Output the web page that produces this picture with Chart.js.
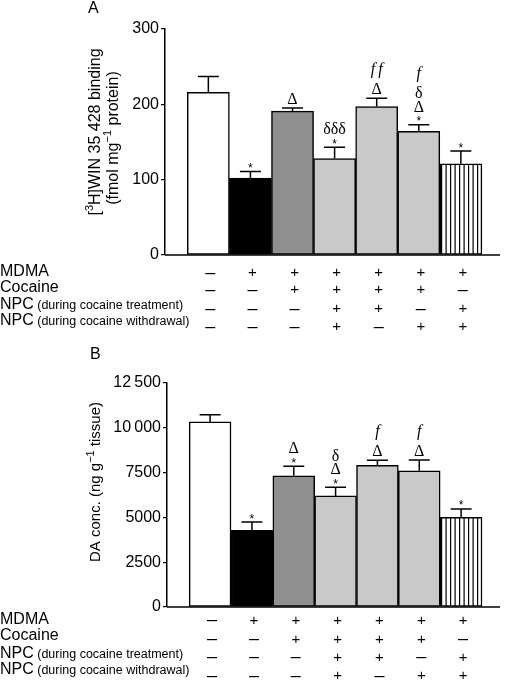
<!DOCTYPE html>
<html>
<head>
<meta charset="utf-8">
<script src="https://cdn.jsdelivr.net/npm/chart.js@4.4.1/dist/chart.umd.min.js"></script>
<style>
  body { margin: 0; background: #fff; }
  .panel { position: absolute; left: 0; width: 505px; }
</style>
</head>
<body>
<div class="panel" style="top:0;height:340px"><canvas id="chart-a"></canvas></div>
<div class="panel" style="top:340px;height:344px"><canvas id="chart-b"></canvas></div>
<script>
// groups (bars left to right)
const groups = ['Control', 'MDMA', 'MDMA+Cocaine', 'MDMA+Cocaine+NPC (both)',
                'MDMA+Cocaine+NPC (treatment)', 'MDMA+Cocaine+NPC (withdrawal)', 'MDMA+NPC (both)'];

// panel A: [3H]WIN 35 428 binding
const bindingMean = [216, 102, 191, 128, 197, 164, 121];
const bindingErr = [21, 9, 4, 15, 11, 9, 17];
const bindingTicks = [0, 100, 200, 300];
const bindingMarks = [[], ['*'], ['Δ'], ['*', 'δδδ'], ['Δ', 'f\u2009f'], ['*', 'Δ', 'δ', 'f'], ['*']];

// panel B: DA concentration
const daMean = [10330, 4280, 7320, 6200, 7900, 7600, 5000];
const daErr = [400, 460, 540, 480, 290, 600, 470];
const daTicks = [0, 2500, 5000, 7500, 10000, 12500];
const daTickLabels = ['0', '2500', '5000', '7500', '10\u2009000', '12\u2009500'];
const daMarks = [[], ['*'], ['*', 'Δ'], ['*', 'Δ', 'δ'], ['Δ', 'f'], ['Δ', 'f'], ['*']];

// treatment table under each panel
const rowLabels = [['MDMA', ''], ['Cocaine', ''], ['NPC', ' (during cocaine treatment)'], ['NPC', ' (during cocaine withdrawal)']];
const treatment = [
  ['–', '+', '+', '+', '+', '+', '+'],
  ['–', '–', '+', '+', '+', '+', '–'],
  ['–', '–', '–', '+', '+', '–', '+'],
  ['–', '–', '–', '+', '–', '+', '+']
];

const SANS = '"Liberation Sans", Arial, sans-serif';
const SERIF = '"Liberation Serif", "Times New Roman", serif';

function stripes() {
  const c = document.createElement('canvas');
  c.width = 9; c.height = 10;
  const g = c.getContext('2d');
  g.fillStyle = '#fff'; g.fillRect(0, 0, 9, 10);
  g.fillStyle = '#000'; g.fillRect(0, 0, 1.2, 10); g.fillRect(4.5, 0, 1.2, 10);
  return g.createPattern(c, 'repeat');
}

// draws text pieces, some of them as superscripts, centred on 0
function richText(ctx, parts, size) {
  const fonts = parts.map(p => (p.sup ? Math.round(size * 0.7) : size) + 'px ' + SANS);
  let total = 0;
  const widths = parts.map((p, i) => { ctx.font = fonts[i]; const w = ctx.measureText(p.t).width; total += w; return w; });
  let x = -total / 2;
  parts.forEach((p, i) => {
    ctx.font = fonts[i];
    ctx.fillText(p.t, x, p.sup ? -size * 0.35 : 0);
    x += widths[i];
  });
}

const panelPlugin = {
  id: 'panel',
  afterDatasetsDraw(chart, args, o) {
    const { ctx } = chart;
    const x = chart.scales.x, y = chart.scales.y;
    ctx.save();
    ctx.strokeStyle = '#000';
    ctx.fillStyle = '#000';
    ctx.lineWidth = 1.5;
    ctx.textAlign = 'center';
    ctx.textBaseline = 'alphabetic';
    o.means.forEach((m, i) => {
      const cx = x.getPixelForValue(i);
      const yb = y.getPixelForValue(m);
      const yt = y.getPixelForValue(m + o.errors[i]);
      ctx.beginPath();
      ctx.moveTo(cx, yb); ctx.lineTo(cx, yt);
      ctx.moveTo(cx - 10.5, yt); ctx.lineTo(cx + 10.5, yt);
      ctx.stroke();
      let base = yt;
      o.marks[i].forEach((s, k) => {
        const isF = s[0] === 'f';
        if (k === 0) base = s === '*' ? yt + 0.5 : yt - 4;
        else base -= isF ? 20 : 13.5;
        ctx.font = s === '*' ? '12px ' + SANS : (isF ? 'italic 16px ' : '16px ') + SERIF;
        ctx.fillText(s, cx, base);
      });
    });
    ctx.restore();
  },
  afterDraw(chart, args, o) {
    const { ctx } = chart;
    const x = chart.scales.x, y = chart.scales.y;
    ctx.save();
    ctx.fillStyle = '#000';
    ctx.strokeStyle = '#000';
    // x axis line
    ctx.lineWidth = 1.5;
    ctx.beginPath();
    ctx.moveTo(chart.chartArea.left, y.bottom); ctx.lineTo(chart.chartArea.right, y.bottom);
    ctx.stroke();
    // panel letter
    ctx.font = '16px ' + SANS;
    ctx.textAlign = 'left';
    ctx.textBaseline = 'middle';
    ctx.fillText(o.letter, o.letterX, o.letterY);
    // y axis title
    o.title.forEach(line => {
      ctx.save();
      ctx.translate(line.x, line.y);
      ctx.rotate(-Math.PI / 2);
      ctx.textBaseline = 'middle';
      richText(ctx, line.parts, line.size);
      ctx.restore();
    });
    // table
    rowLabels.forEach((lab, r) => {
      const ly = y.bottom + o.labelRows[r];
      ctx.textAlign = 'left';
      ctx.font = '16px ' + SANS;
      ctx.fillText(lab[0], 0, ly);
      if (lab[1]) {
        const w = ctx.measureText(lab[0]).width;
        ctx.font = '12.5px ' + SANS;
        ctx.fillText(lab[1], w, ly + 1);
      }
      ctx.textAlign = 'center';
      treatment[r].forEach((s, i) => {
        ctx.font = (s === '+' ? '15px ' : '18px ') + SANS;
        ctx.fillText(s, x.getPixelForValue(i) + 2, y.bottom + o.signRows[r]);
      });
    });
    ctx.restore();
  }
};

function makeChart(id, means, errors, ticks, tickLabels, yMax, axisWidth, pad, marks, extra) {
  const grey = '#c9c9c9';
  return new Chart(document.getElementById(id), {
    type: 'bar',
    data: {
      datasets: [{
        label: id,
        data: means.map((v, i) => ({ x: i, y: v })),
        backgroundColor: ['#ffffff', '#000000', '#8f8f8f', grey, grey, grey, stripes()],
        borderColor: '#000',
        borderWidth: 1.5,
        borderSkipped: false,
        barPercentage: 1,
        categoryPercentage: 1
      }]
    },
    options: {
      responsive: true,
      maintainAspectRatio: false,
      animation: false,
      layout: { padding: pad },
      plugins: {
        legend: { display: false },
        tooltip: { enabled: false },
        panel: Object.assign({ means, errors, marks }, extra)
      },
      scales: {
        x: {
          type: 'linear', min: -1.03, max: 6.93, offset: false, display: true,
          ticks: { display: false },
          grid: { display: false, drawTicks: false },
          border: { display: false },
          afterFit: s => { s.height = 0; s.paddingLeft = 0; s.paddingRight = 0; }
        },
        y: {
          min: 0, max: yMax,
          afterBuildTicks: s => { s.ticks = ticks.map(v => ({ value: v })); },
          afterFit: s => { s.width = axisWidth; },
          ticks: {
            color: '#000', padding: 2,
            font: { family: SANS, size: 16 },
            callback: (v) => tickLabels[ticks.indexOf(v)]
          },
          grid: { drawOnChartArea: false, drawTicks: true, tickLength: 4, color: '#000', lineWidth: 1.2 },
          border: { display: true, color: '#000', width: 1.5 }
        }
      }
    },
    plugins: [panelPlugin]
  });
}

makeChart('chart-a', bindingMean, bindingErr, bindingTicks, bindingTicks.map(String), 300, 165,
  { top: 29, bottom: 85, left: 0, right: 5 }, bindingMarks, {
    letter: 'A', letterX: 88, letterY: 9,
    title: [
      { x: 96, y: 132, size: 16, parts: [{ t: '[' }, { t: '3', sup: true }, { t: 'H]WIN 35 428 binding' }] },
      { x: 114, y: 138, size: 16, parts: [{ t: '(fmol mg' }, { t: '−1', sup: true }, { t: ' protein)' }] }
    ],
    labelRows: [17, 33, 50, 66],
    signRows: [18, 35, 54, 72]
  });

makeChart('chart-b', daMean, daErr, daTicks, daTickLabels, 12500, 167,
  { top: 43, bottom: 77, left: 0, right: 5 }, daMarks, {
    letter: 'B', letterX: 90, letterY: 15,
    title: [
      { x: 96, y: 142, size: 15, parts: [{ t: 'DA conc. (ng g' }, { t: '−1', sup: true }, { t: ' tissue)' }] }
    ],
    labelRows: [12.5, 29, 47, 62.5],
    signRows: [13.5, 32.5, 50.5, 69]
  });
</script>
</body>
</html>
